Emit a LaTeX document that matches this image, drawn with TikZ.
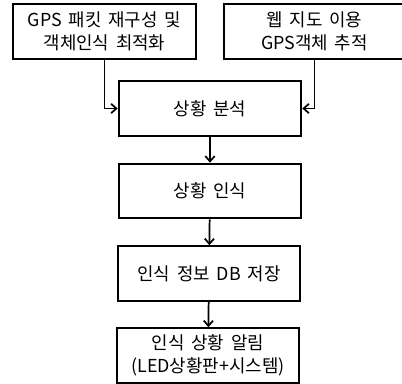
\documentclass[tikz,border=0pt]{standalone}
\usepackage{fontspec}
\setmainfont[WordSpace=1.7]{Noto Sans CJK KR}
\usepackage{tikz}
\usetikzlibrary{positioning}
\usetikzlibrary{arrows.meta}

\begin{document}
\begin{tikzpicture}[x=0.75pt, y=-0.75pt,
    box/.style={draw, rectangle, line width=1.4pt, minimum width=137pt, minimum height=41pt, align=center, font=\fontsize{13.4}{17}\selectfont},
    flow/.style={line width=1.3pt, -{Straight Barb[length=4pt, width=7pt]}}]
        \useasboundingbox (0, 0) rectangle (402, 384);
        \node[box] (gps) at (104.5, 31.5) {GPS 패킷 재구성 및\\객체인식 최적화};
        \node[box, minimum width=136pt] (web) at (314.5, 31.5) {웹 지도 이용\\GPS객체 추적};
        \node[box] (analysis) at (210, 108.5) {상황 분석};
        \node[box] (recog) at (210, 191) {상황 인식};
        \node[box] (store) at (209, 273.5) {인식 정보 DB 저장};
        \node[box] (alert) at (208, 355.5) {인식 상황 알림\\(LED상황판+시스템)};
        \draw[flow] (gps.south) |- (analysis.west);
        \draw[flow] (web.south) |- (analysis.east);
        \draw[flow] (analysis) -- (recog);
        \draw[flow] (recog) -- (store);
        \draw[flow] (store) -- (alert);
    \end{tikzpicture}
\end{document}
